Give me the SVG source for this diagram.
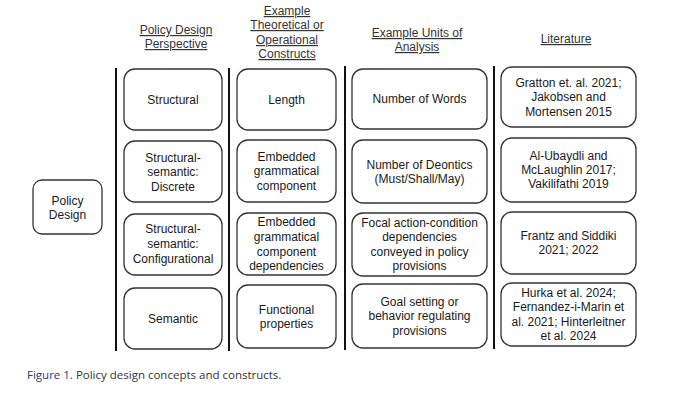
<svg xmlns="http://www.w3.org/2000/svg" width="680" height="396" viewBox="0 0 680 396">
<style>
text{font-family:"Liberation Sans",Arial,sans-serif;font-size:12px;fill:#1a1a1a;text-anchor:middle}
.h{text-decoration:underline;fill:#333}
.box{fill:#fff;stroke:#333;stroke-width:1.3}
.vl{stroke:#111;stroke-width:2}
.cap{font-family:"Open Sans","Liberation Sans",sans-serif;font-size:11.5px;text-anchor:start;fill:#333}
</style>
<rect width="680" height="396" fill="#fff"/>
<g id="headers">
<text class="h" x="176" y="34">Policy Design</text>
<text class="h" x="176" y="48">Perspective</text>
<text class="h" x="287" y="15">Example</text>
<text class="h" x="287" y="29">Theoretical or</text>
<text class="h" x="287" y="44">Operational</text>
<text class="h" x="287" y="58">Constructs</text>
<text class="h" x="417" y="37">Example Units of</text>
<text class="h" x="417" y="51">Analysis</text>
<text class="h" x="566" y="43">Literature</text>
</g>
<g id="connectors">
<line class="vl" x1="116" y1="68" x2="116" y2="351"/>
<line class="vl" x1="229" y1="68" x2="229" y2="351"/>
<line class="vl" x1="345" y1="66" x2="345" y2="350"/>
<line class="vl" x1="494" y1="66" x2="494" y2="349"/>
</g>
<g id="policy-design"><rect class="box" x="33" y="180" width="69" height="54" rx="9"/><text x="67.5" y="205">Policy</text><text x="67.5" y="219">Design</text></g>
<g id="structural"><rect class="box" x="124" y="69" width="98" height="61" rx="11"/><text x="173" y="104">Structural</text></g>
<g id="ss-discrete"><rect class="box" x="124" y="141" width="98" height="61" rx="11"/><text x="173" y="162">Structural-</text><text x="173" y="176">semantic:</text><text x="173" y="191">Discrete</text></g>
<g id="ss-config"><rect class="box" x="124" y="214" width="98" height="61" rx="11"/><text x="173" y="233">Structural-</text><text x="173" y="248">semantic:</text><text x="173" y="263">Configurational</text></g>
<g id="semantic"><rect class="box" x="124" y="288" width="98" height="61" rx="11"/><text x="173" y="323">Semantic</text></g>
<g id="length"><rect class="box" x="237" y="69" width="99" height="61" rx="11"/><text x="286.5" y="104">Length</text></g>
<g id="embedded"><rect class="box" x="237" y="140" width="99" height="62" rx="11"/><text x="286.5" y="161">Embedded</text><text x="286.5" y="175">grammatical</text><text x="286.5" y="190">component</text></g>
<g id="embedded-dep"><rect class="box" x="237" y="213" width="99" height="62" rx="11"/><text x="286.5" y="226">Embedded</text><text x="286.5" y="241">grammatical</text><text x="286.5" y="256">component</text><text x="286.5" y="270">dependencies</text></g>
<g id="functional"><rect class="box" x="237" y="285" width="99" height="63" rx="11"/><text x="286.5" y="314">Functional</text><text x="286.5" y="328">properties</text></g>
<g id="words"><rect class="box" x="352" y="69" width="135" height="60" rx="11"/><text x="419.5" y="103">Number of Words</text></g>
<g id="deontics"><rect class="box" x="352" y="140" width="135" height="63" rx="11"/><text x="419.5" y="169">Number of Deontics</text><text x="419.5" y="183">(Must/Shall/May)</text></g>
<g id="focal"><rect class="box" x="352" y="213" width="135" height="63" rx="11"/><text x="419.5" y="227">Focal action-condition</text><text x="419.5" y="241">dependencies</text><text x="419.5" y="256">conveyed in policy</text><text x="419.5" y="270">provisions</text></g>
<g id="goal"><rect class="box" x="352" y="284" width="135" height="64" rx="11"/><text x="419.5" y="306">Goal setting or</text><text x="419.5" y="320">behavior regulating</text><text x="419.5" y="335">provisions</text></g>
<g id="lit1"><rect class="box" x="501" y="67" width="135" height="60" rx="11"/><text x="568.5" y="87">Gratton et. al. 2021;</text><text x="568.5" y="101">Jakobsen and</text><text x="568.5" y="116">Mortensen 2015</text></g>
<g id="lit2"><rect class="box" x="501" y="138" width="135" height="64" rx="11"/><text x="568.5" y="160">Al-Ubaydli and</text><text x="568.5" y="174">McLaughlin 2017;</text><text x="568.5" y="188">Vakilifathi 2019</text></g>
<g id="lit3"><rect class="box" x="501" y="212" width="135" height="62" rx="11"/><text x="568.5" y="240">Frantz and Siddiki</text><text x="568.5" y="254">2021; 2022</text></g>
<g id="lit4"><rect class="box" x="501" y="283" width="135" height="63" rx="11"/><text x="568.5" y="297">Hurka et al. 2024;</text><text x="568.5" y="311">Fernandez-i-Marin et</text><text x="568.5" y="326">al. 2021; Hinterleitner</text><text x="568.5" y="340">et al. 2024</text></g>
<g id="caption"><text class="cap" x="27" y="379"><tspan fill="#1f3c7a">Figure 1.</tspan> Policy design concepts and constructs.</text></g>
</svg>
